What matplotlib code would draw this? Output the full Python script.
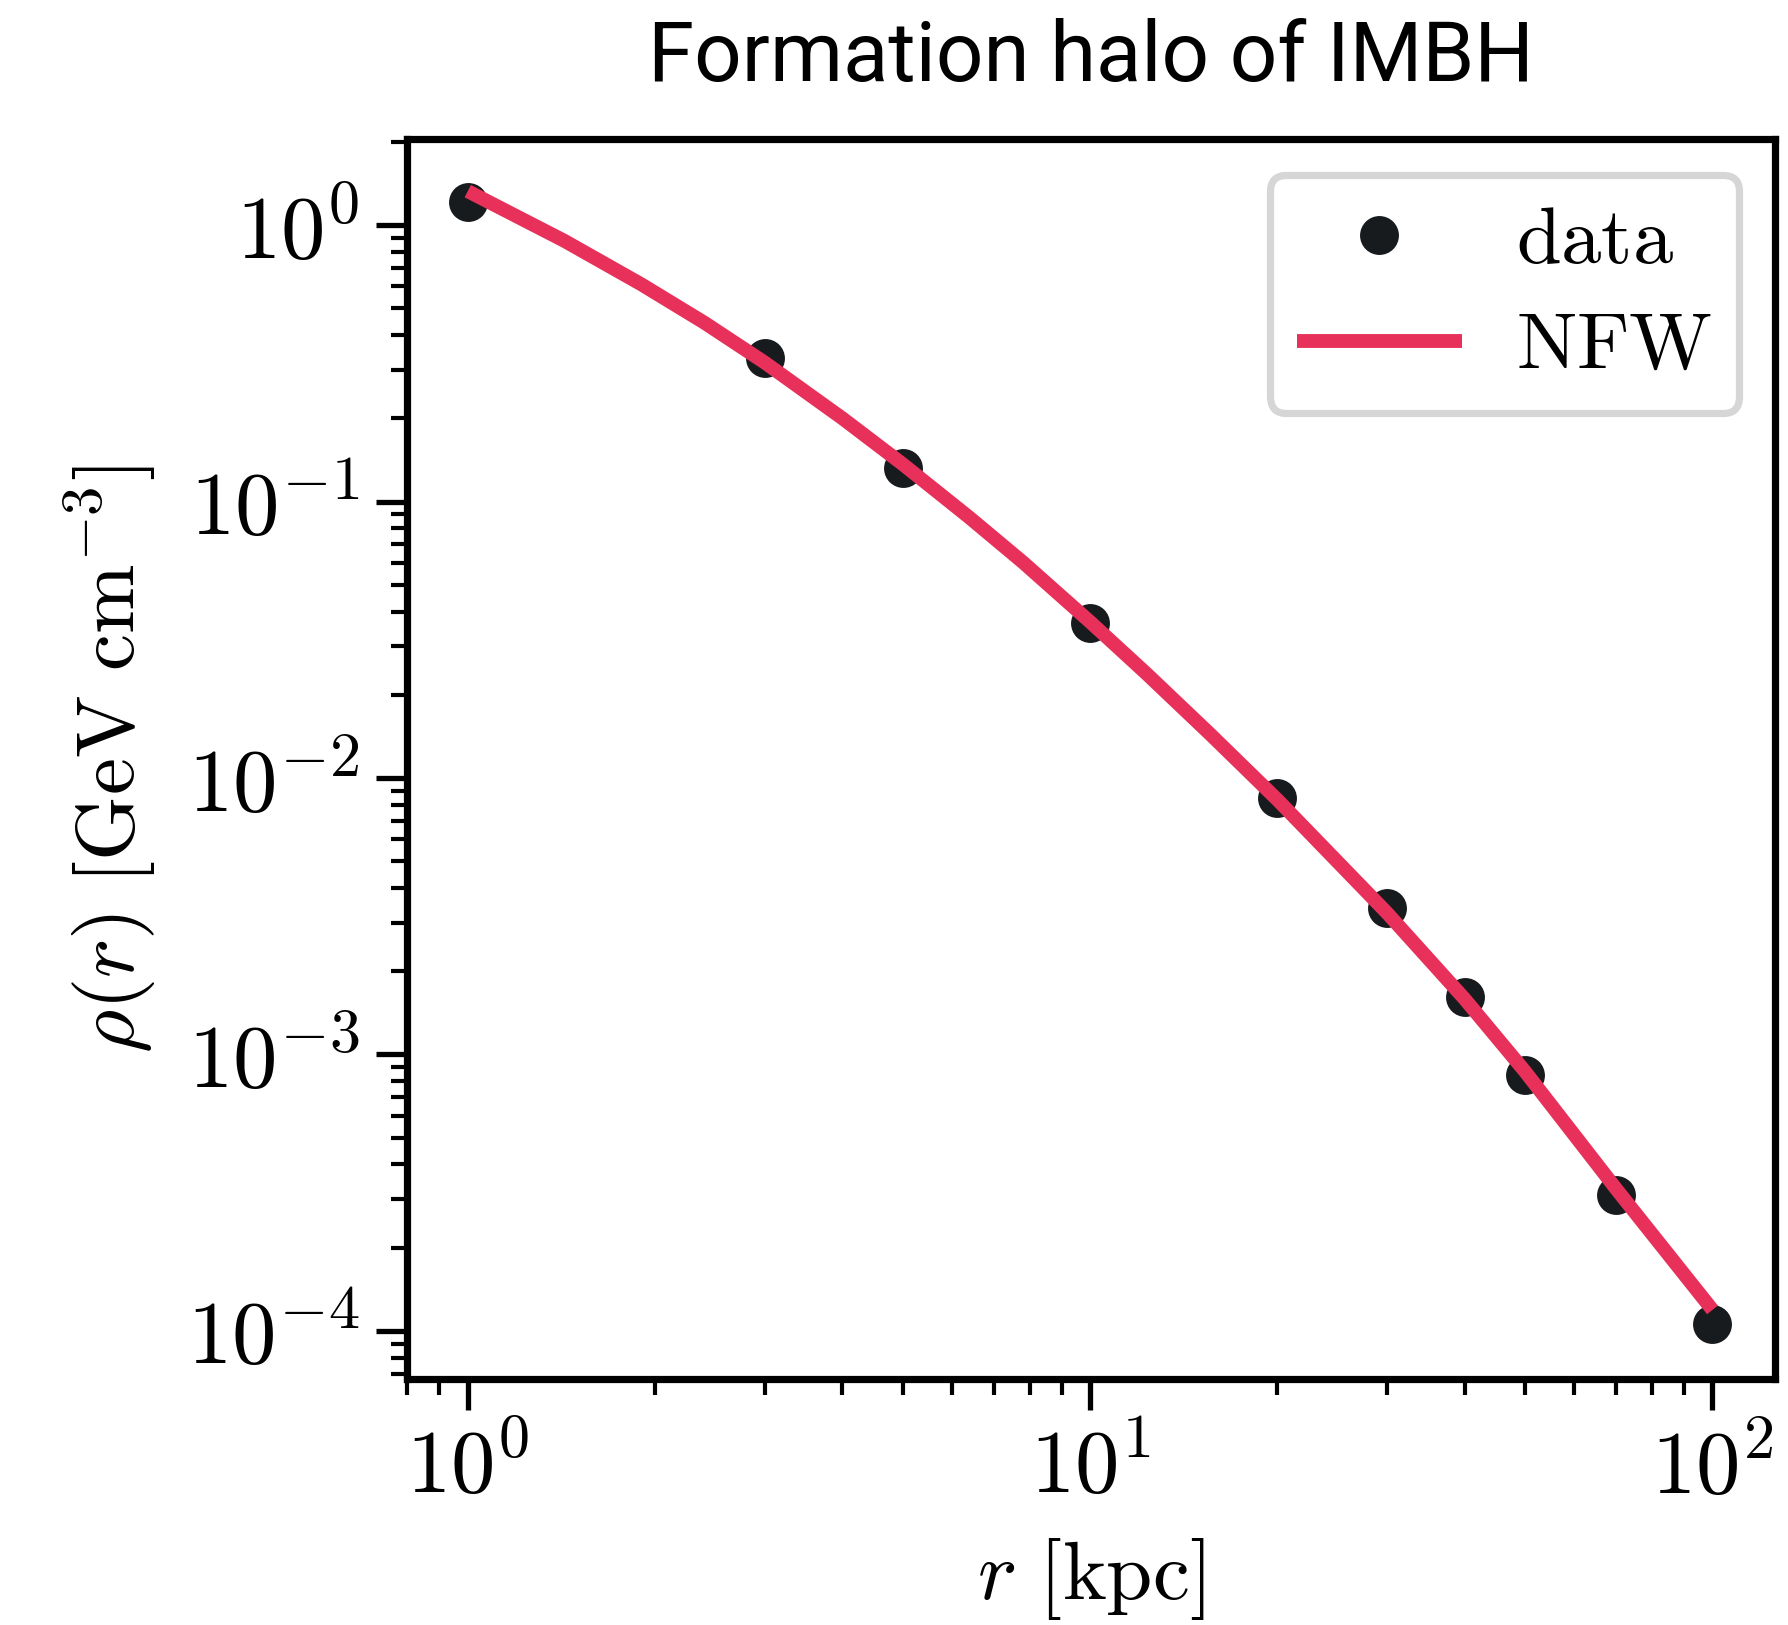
import matplotlib
matplotlib.use('Agg')
import matplotlib.pyplot as plt
from matplotlib.ticker import FuncFormatter
import numpy as np

plt.rcParams['mathtext.fontset'] = 'cm'
plt.rcParams['font.family'] = ['Roboto', 'DejaVu Sans']

# halo data points
r_data = [1, 3, 5, 10, 20, 30, 40, 50, 70, 100]
rho_data = [1.216, 0.331, 0.132, 0.0363, 0.0085, 0.0034, 0.001607, 0.000846, 0.0003105, 0.000106]

# NFW curve
r_fit = [1, 1.43, 1.9, 2.4, 3, 4, 5, 6.4, 7.8, 10, 12.3, 15.6, 20, 30, 40, 50, 70, 100]
rho_fit = [1.327, 0.877, 0.611, 0.4436, 0.3184, 0.2000, 0.1365, 0.0875, 0.0603, 0.0367,
           0.02393, 0.01439, 0.00834, 0.00325, 0.001585, 0.000867, 0.0003266, 0.0001191]

data_color = '#181b1e'
fit_color = '#e8315a'

fig = plt.figure(figsize=(8.94, 8.125), dpi=200)
ax = fig.add_axes([0.2275, 0.1514, 0.7652, 0.7631])

ax.plot(r_data, rho_data, 'o', color=data_color, markersize=13, label=r'$\mathrm{data}$', zorder=2)
ax.plot(r_fit, rho_fit, '-', color=fit_color, linewidth=5, solid_capstyle='butt',
        label=r'$\mathrm{NFW}$', zorder=3)

ax.set_xscale('log')
ax.set_yscale('log')
ax.set_xlim(0.798, 126)
ax.set_ylim(6.7e-5, 2.05)

fmt = FuncFormatter(lambda v, p: r'$10^{%d}$' % int(round(np.log10(v))))
ax.xaxis.set_major_formatter(fmt)
ax.yaxis.set_major_formatter(fmt)

for s in ax.spines.values():
    s.set_linewidth(2.6)
ax.tick_params(which='major', direction='out', length=11, width=1.9, labelsize=32, pad=6)
ax.tick_params(which='minor', direction='out', length=5.8, width=1.5)

ax.set_xlabel(r'$r\ [\mathrm{kpc}]$', fontsize=30, labelpad=9)
ax.set_ylabel(r'$\rho(r)\ [\mathrm{GeV\ cm^{-3}}]$', fontsize=30, labelpad=10)
ax.set_title('Formation halo of IMBH', fontsize=30, pad=21)

leg = ax.legend(loc='upper right', fontsize=29, handlelength=2.05, handletextpad=0.67,
                borderpad=0.33, labelspacing=0.35, fancybox=True, framealpha=1,
                borderaxespad=0.45)
leg.get_frame().set_edgecolor('#d6d6d6')
leg.get_frame().set_linewidth(2.6)

fig.savefig('out.png', dpi=200)
